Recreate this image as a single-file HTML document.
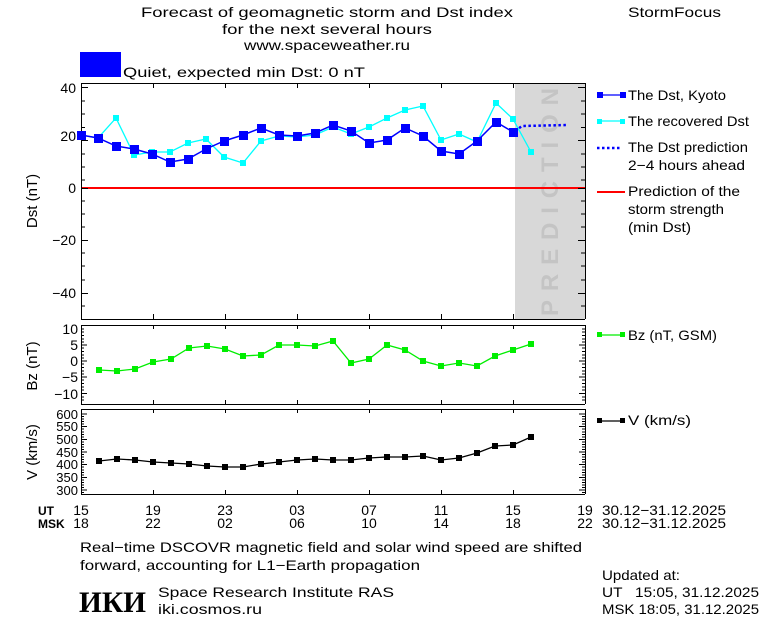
<!DOCTYPE html>
<html><head><meta charset="utf-8"><style>
html,body{margin:0;padding:0;background:#fff}
svg{display:block}
text{font-family:"Liberation Sans",sans-serif;font-size:14px;fill:#000;white-space:pre}
</style></head><body>
<svg width="760" height="620" viewBox="0 0 760 620" xmlns="http://www.w3.org/2000/svg">
<rect width="760" height="620" fill="#fff"/>
<text x="327" y="17" text-anchor="middle" textLength="372" lengthAdjust="spacingAndGlyphs">Forecast of geomagnetic storm and Dst index</text>
<text x="327" y="34" text-anchor="middle" textLength="210" lengthAdjust="spacingAndGlyphs">for the next several hours</text>
<text x="327" y="50" text-anchor="middle" textLength="166" lengthAdjust="spacingAndGlyphs">www.spaceweather.ru</text>
<text x="628" y="17" textLength="93" lengthAdjust="spacingAndGlyphs">StormFocus</text>
<rect x="80" y="52" width="41" height="25" fill="#0000ff"/>
<text x="123" y="77" textLength="242" lengthAdjust="spacingAndGlyphs">Quiet, expected min Dst: 0 nT</text>

<rect x="515" y="83" width="70" height="236" fill="#d8d8d8"/>
<text transform="translate(558,316) rotate(-90)" style="font-size:24px;font-weight:bold;fill:#c4c4c4" textLength="228" lengthAdjust="spacing">PREDICTION</text>
<line x1="81" y1="188" x2="585" y2="188" stroke="#ff0000" stroke-width="2"/>
<g stroke="#000" stroke-width="1">
<path d="M81 83.5H585M81 319.5H585M81.5 83V319M585.5 83V319"/>
<path d="M153.5 83v5M225.5 83v5M297.5 83v5M369.5 83v5M441.5 83v5M513.5 83v5M153.5 319v-5M225.5 319v-5M297.5 319v-5M369.5 319v-5M441.5 319v-5M513.5 319v-5"/>
<path d="M81 87.5h7M81 101h4M81 114h4M81 127.5h4M81 140.5h7M81 154h4M81 167h4M81 180h4M81 188.5h7M81 201h4M81 214h4M81 227h4M81 240.5h7M81 253h4M81 266h4M81 280h4M81 293.5h7M81 306h4"/>
<path d="M585 87.5h-7M585 101h-4M585 114h-4M585 127.5h-4M585 140.5h-7M585 154h-4M585 167h-4M585 180h-4M585 188.5h-7M585 201h-4M585 214h-4M585 227h-4M585 240.5h-7M585 253h-4M585 266h-4M585 280h-4M585 293.5h-7M585 306h-4"/>
</g>
<g text-anchor="end">
<text x="76" y="93">40</text><text x="76" y="141">20</text><text x="76" y="193">0</text>
<text x="76" y="245">−20</text><text x="76" y="298">−40</text>
</g>
<text transform="translate(37,201) rotate(-90)" text-anchor="middle" style="font-size:15px">Dst (nT)</text>

<polyline fill="none" stroke="#00ffff" stroke-width="1.3" points="81,135 98,138 116,118 134,155 152,152 170,152 188,143 206,139 224,157 243,163 261,141 279,136 297,137 315,135 333,127 351,134 369,127 387,118 405,110 423,106 441,140 459,134 477,142 496,103 513,119 531,152"/>
<g fill="#00ffff">
<rect x="78" y="132" width="6" height="6"/><rect x="95" y="135" width="6" height="6"/><rect x="113" y="115" width="6" height="6"/><rect x="131" y="152" width="6" height="6"/><rect x="149" y="149" width="6" height="6"/><rect x="167" y="149" width="6" height="6"/><rect x="185" y="140" width="6" height="6"/><rect x="203" y="136" width="6" height="6"/><rect x="221" y="154" width="6" height="6"/><rect x="240" y="160" width="6" height="6"/><rect x="258" y="138" width="6" height="6"/><rect x="276" y="133" width="6" height="6"/><rect x="294" y="134" width="6" height="6"/><rect x="312" y="132" width="6" height="6"/><rect x="330" y="124" width="6" height="6"/><rect x="348" y="131" width="6" height="6"/><rect x="366" y="124" width="6" height="6"/><rect x="384" y="115" width="6" height="6"/><rect x="402" y="107" width="6" height="6"/><rect x="420" y="103" width="6" height="6"/><rect x="438" y="137" width="6" height="6"/><rect x="456" y="131" width="6" height="6"/><rect x="474" y="139" width="6" height="6"/><rect x="493" y="100" width="6" height="6"/><rect x="510" y="116" width="6" height="6"/><rect x="528" y="149" width="6" height="6"/>
</g>
<polyline fill="none" stroke="#0000ff" stroke-width="1.5" points="81,135 98,138 116,146 134,149 152,154 170,162 188,159 206,149 224,141 243,135 261,128 279,135 297,136 315,133 333,125 351,131 369,143 387,140 405,128 423,136 441,151 459,154 477,141 496,122 513,132"/>
<g fill="#0000ff">
<rect x="77" y="131" width="9" height="9"/><rect x="94" y="134" width="9" height="9"/><rect x="112" y="142" width="9" height="9"/><rect x="130" y="145" width="9" height="9"/><rect x="148" y="150" width="9" height="9"/><rect x="166" y="158" width="9" height="9"/><rect x="184" y="155" width="9" height="9"/><rect x="202" y="145" width="9" height="9"/><rect x="220" y="137" width="9" height="9"/><rect x="239" y="131" width="9" height="9"/><rect x="257" y="124" width="9" height="9"/><rect x="275" y="131" width="9" height="9"/><rect x="293" y="132" width="9" height="9"/><rect x="311" y="129" width="9" height="9"/><rect x="329" y="121" width="9" height="9"/><rect x="347" y="127" width="9" height="9"/><rect x="365" y="139" width="9" height="9"/><rect x="383" y="136" width="9" height="9"/><rect x="401" y="124" width="9" height="9"/><rect x="419" y="132" width="9" height="9"/><rect x="437" y="147" width="9" height="9"/><rect x="455" y="150" width="9" height="9"/><rect x="473" y="137" width="9" height="9"/><rect x="492" y="118" width="9" height="9"/><rect x="509" y="128" width="9" height="9"/>
</g>
<polyline fill="none" stroke="#0000ff" stroke-width="2.5" stroke-dasharray="2.5,2.5" points="515,131 522,126 568,125"/>

<line x1="598" y1="95" x2="622" y2="95" stroke="#0000ff" stroke-width="1.3"/>
<rect x="597" y="92" width="6" height="6" fill="#0000ff"/><rect x="620" y="92" width="6" height="6" fill="#0000ff"/>
<text x="628" y="100" textLength="98" lengthAdjust="spacingAndGlyphs">The Dst, Kyoto</text>
<line x1="598" y1="121" x2="622" y2="121" stroke="#00ffff" stroke-width="1.3"/>
<rect x="597" y="119" width="5" height="5" fill="#00ffff"/><rect x="620" y="119" width="5" height="5" fill="#00ffff"/>
<text x="628" y="126" textLength="121" lengthAdjust="spacingAndGlyphs">The recovered Dst</text>
<line x1="597" y1="148" x2="621" y2="148" stroke="#0000ff" stroke-width="2.5" stroke-dasharray="2.5,2.5"/>
<text x="628" y="152" textLength="120" lengthAdjust="spacingAndGlyphs">The Dst prediction</text>
<text x="628" y="170" textLength="117" lengthAdjust="spacingAndGlyphs">2−4 hours ahead</text>
<line x1="597" y1="192" x2="625" y2="192" stroke="#ff0000" stroke-width="2"/>
<text x="628" y="196" textLength="112" lengthAdjust="spacingAndGlyphs">Prediction of the</text>
<text x="628" y="214" textLength="96" lengthAdjust="spacingAndGlyphs">storm strength</text>
<text x="628" y="232" textLength="63" lengthAdjust="spacingAndGlyphs">(min Dst)</text>

<g stroke="#000" stroke-width="1">
<path d="M81 325.5H585M81 404.5H585M81.5 325V404M585.5 325V404"/>
<path d="M153.5 325v4M225.5 325v4M297.5 325v4M369.5 325v4M441.5 325v4M513.5 325v4M153.5 404v-4M225.5 404v-4M297.5 404v-4M369.5 404v-4M441.5 404v-4M513.5 404v-4"/>
<path d="M81 329h3M81 332h3M81 335.5h3M81 339h3M81 342h3M81 345h6M81 348h3M81 351.5h3M81 355h3M81 358h3M81 361h6M81 364h3M81 367.5h3M81 371h3M81 374h3M81 377h6M81 380h3M81 383.5h3M81 387h3M81 390h3M81 393.5h6M81 397h3M81 400h3"/>
<path d="M585 329h-3M585 332h-3M585 335.5h-3M585 339h-3M585 342h-3M585 345h-6M585 348h-3M585 351.5h-3M585 355h-3M585 358h-3M585 361h-6M585 364h-3M585 367.5h-3M585 371h-3M585 374h-3M585 377h-6M585 380h-3M585 383.5h-3M585 387h-3M585 390h-3M585 393.5h-6M585 397h-3M585 400h-3"/>
</g>
<g text-anchor="end">
<text x="78" y="334">10</text><text x="78" y="350">5</text><text x="78" y="366">0</text>
<text x="78" y="382">−5</text><text x="78" y="399">−10</text>
</g>
<text transform="translate(37,366) rotate(-90)" text-anchor="middle" style="font-size:15px">Bz (nT)</text>
<polyline fill="none" stroke="#00ee00" stroke-width="1.3" points="99,370 117,371 135,369 153,362 171,359 189,348 207,346 225,349 243,356 261,355 279,345 297,345 315,346 333,341 351,363 369,359 387,345 405,350 423,361 441,366 459,363 477,366 495,356 513,350 531,344"/>
<g fill="#00ee00">
<rect x="96" y="367" width="6" height="6"/><rect x="114" y="368" width="6" height="6"/><rect x="132" y="366" width="6" height="6"/><rect x="150" y="359" width="6" height="6"/><rect x="168" y="356" width="6" height="6"/><rect x="186" y="345" width="6" height="6"/><rect x="204" y="343" width="6" height="6"/><rect x="222" y="346" width="6" height="6"/><rect x="240" y="353" width="6" height="6"/><rect x="258" y="352" width="6" height="6"/><rect x="276" y="342" width="6" height="6"/><rect x="294" y="342" width="6" height="6"/><rect x="312" y="343" width="6" height="6"/><rect x="330" y="338" width="6" height="6"/><rect x="348" y="360" width="6" height="6"/><rect x="366" y="356" width="6" height="6"/><rect x="384" y="342" width="6" height="6"/><rect x="402" y="347" width="6" height="6"/><rect x="420" y="358" width="6" height="6"/><rect x="438" y="363" width="6" height="6"/><rect x="456" y="360" width="6" height="6"/><rect x="474" y="363" width="6" height="6"/><rect x="492" y="353" width="6" height="6"/><rect x="510" y="347" width="6" height="6"/><rect x="528" y="341" width="6" height="6"/>
</g>
<line x1="597" y1="335" x2="623" y2="335" stroke="#00ee00" stroke-width="1.3"/>
<rect x="597" y="332" width="5" height="5" fill="#00ee00"/><rect x="620" y="332" width="5" height="5" fill="#00ee00"/>
<text x="628" y="340" textLength="89" lengthAdjust="spacingAndGlyphs">Bz (nT, GSM)</text>

<g stroke="#000" stroke-width="1">
<path d="M81 409.5H585M81 494.5H585M81.5 409V494M585.5 409V494"/>
<path d="M153.5 409v4M225.5 409v4M297.5 409v4M369.5 409v4M441.5 409v4M513.5 409v4M153.5 494v-4M225.5 494v-4M297.5 494v-4M369.5 494v-4M441.5 494v-4M513.5 494v-4"/>
<path d="M81 414h6M81 416.5h3M81 419h3M81 421.5h3M81 424h3M81 426.5h6M81 429h3M81 432h3M81 434.5h3M81 437h3M81 439.5h6M81 442h3M81 444.5h3M81 447h3M81 449.5h3M81 452h6M81 454.5h3M81 457h3M81 459.5h3M81 462h3M81 464.5h6M81 467h3M81 470h3M81 472.5h3M81 475h3M81 477.5h6M81 480h3M81 482.5h3M81 485h3M81 487.5h3M81 490h6M81 492.5h3"/>
<path d="M585 414h-6M585 416.5h-3M585 419h-3M585 421.5h-3M585 424h-3M585 426.5h-6M585 429h-3M585 432h-3M585 434.5h-3M585 437h-3M585 439.5h-6M585 442h-3M585 444.5h-3M585 447h-3M585 449.5h-3M585 452h-6M585 454.5h-3M585 457h-3M585 459.5h-3M585 462h-3M585 464.5h-6M585 467h-3M585 470h-3M585 472.5h-3M585 475h-3M585 477.5h-6M585 480h-3M585 482.5h-3M585 485h-3M585 487.5h-3M585 490h-6M585 492.5h-3"/>
</g>
<g text-anchor="end">
<text x="78" y="419" style="font-size:13px">600</text><text x="78" y="431" style="font-size:13px">550</text><text x="78" y="444" style="font-size:13px">500</text>
<text x="78" y="457" style="font-size:13px">450</text><text x="78" y="469" style="font-size:13px">400</text><text x="78" y="482" style="font-size:13px">350</text><text x="78" y="495" style="font-size:13px">300</text>
</g>
<text transform="translate(37,452) rotate(-90)" text-anchor="middle" style="font-size:15px">V (km/s)</text>
<polyline fill="none" stroke="#000" stroke-width="1.3" points="99,461 117,459 135,460 153,462 171,463 189,464 207,466 225,467 243,467 261,464 279,462 297,460 315,459 333,460 351,460 369,458 387,457 405,457 423,456 441,460 459,458 477,453 495,446 513,445 531,437"/>
<g fill="#000">
<rect x="96" y="458" width="6" height="6"/><rect x="114" y="456" width="6" height="6"/><rect x="132" y="457" width="6" height="6"/><rect x="150" y="459" width="6" height="6"/><rect x="168" y="460" width="6" height="6"/><rect x="186" y="461" width="6" height="6"/><rect x="204" y="463" width="6" height="6"/><rect x="222" y="464" width="6" height="6"/><rect x="240" y="464" width="6" height="6"/><rect x="258" y="461" width="6" height="6"/><rect x="276" y="459" width="6" height="6"/><rect x="294" y="457" width="6" height="6"/><rect x="312" y="456" width="6" height="6"/><rect x="330" y="457" width="6" height="6"/><rect x="348" y="457" width="6" height="6"/><rect x="366" y="455" width="6" height="6"/><rect x="384" y="454" width="6" height="6"/><rect x="402" y="454" width="6" height="6"/><rect x="420" y="453" width="6" height="6"/><rect x="438" y="457" width="6" height="6"/><rect x="456" y="455" width="6" height="6"/><rect x="474" y="450" width="6" height="6"/><rect x="492" y="443" width="6" height="6"/><rect x="510" y="442" width="6" height="6"/><rect x="528" y="434" width="6" height="6"/>
</g>
<line x1="597" y1="421" x2="623" y2="421" stroke="#000" stroke-width="1.3"/>
<rect x="597" y="418" width="5" height="5" fill="#000"/><rect x="620" y="418" width="5" height="5" fill="#000"/>
<text x="628" y="425" textLength="63" lengthAdjust="spacingAndGlyphs">V (km/s)</text>

<text x="38" y="515" style="font-size:12px;font-weight:bold">UT</text>
<text x="38" y="528" style="font-size:12px;font-weight:bold">MSK</text>
<g text-anchor="middle">
<text x="81" y="515">15</text><text x="153" y="515">19</text><text x="225" y="515">23</text><text x="297" y="515">03</text><text x="369" y="515">07</text><text x="441" y="515">11</text><text x="513" y="515">15</text><text x="585" y="515">19</text>
<text x="81" y="528">18</text><text x="153" y="528">22</text><text x="225" y="528">02</text><text x="297" y="528">06</text><text x="369" y="528">10</text><text x="441" y="528">14</text><text x="513" y="528">18</text><text x="585" y="528">22</text>
</g>
<text x="602" y="515" textLength="124" lengthAdjust="spacingAndGlyphs">30.12−31.12.2025</text>
<text x="602" y="528" textLength="124" lengthAdjust="spacingAndGlyphs">30.12−31.12.2025</text>

<text x="80" y="552" textLength="502" lengthAdjust="spacingAndGlyphs">Real−time DSCOVR magnetic field and solar wind speed are shifted</text>
<text x="80" y="570" textLength="340" lengthAdjust="spacingAndGlyphs">forward, accounting for L1−Earth propagation</text>
<text x="79" y="612" style="font-family:'Liberation Serif',serif;font-size:30px;font-weight:bold" textLength="67" lengthAdjust="spacingAndGlyphs">ИКИ</text>
<text x="158" y="597" textLength="236" lengthAdjust="spacingAndGlyphs">Space Research Institute RAS</text>
<text x="158" y="614" textLength="104" lengthAdjust="spacingAndGlyphs">iki.cosmos.ru</text>
<text x="602" y="580" textLength="78" lengthAdjust="spacingAndGlyphs">Updated at:</text>
<text x="602" y="597" textLength="157" lengthAdjust="spacingAndGlyphs">UT   15:05, 31.12.2025</text>
<text x="602" y="614" textLength="157" lengthAdjust="spacingAndGlyphs">MSK 18:05, 31.12.2025</text>
</svg>
</body></html>
